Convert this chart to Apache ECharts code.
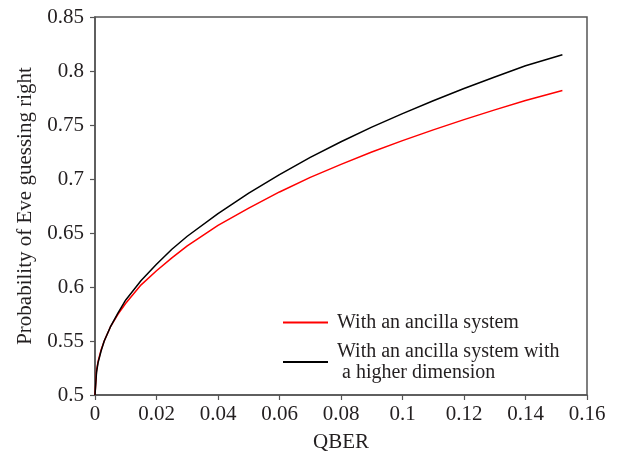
<!DOCTYPE html>
<html>
<head>
<meta charset="utf-8">
<script src="https://cdn.jsdelivr.net/npm/echarts@6/dist/echarts.min.js"></script>
<style>
html,body{margin:0;padding:0;background:#fff;}
#c{width:621px;height:458px;}
</style>
</head>
<body>
<div id="c"></div>
<script>
// QBER sample points
var qber = [0, 0.0005, 0.001, 0.002, 0.003, 0.005, 0.0075, 0.01, 0.015, 0.02, 0.025, 0.03, 0.04, 0.05, 0.06, 0.07, 0.08, 0.09, 0.1, 0.11, 0.12, 0.13, 0.14, 0.152];
// "With an ancilla system" (red)
var ancilla = [0.5, 0.523, 0.531, 0.542, 0.550, 0.563, 0.575, 0.585, 0.602, 0.615, 0.627, 0.638, 0.657, 0.673, 0.688, 0.7015, 0.7135, 0.725, 0.7355, 0.7455, 0.755, 0.764, 0.7727, 0.782];
// "With an ancilla system with a higher dimension" (black)
var ancillaHigh = [0.5, 0.521, 0.530, 0.541, 0.550, 0.563, 0.576, 0.588, 0.606, 0.621, 0.635, 0.647, 0.668, 0.687, 0.704, 0.720, 0.7345, 0.748, 0.7605, 0.7725, 0.7838, 0.7945, 0.8048, 0.815];
var seriesNames = ['With an ancilla system', 'With an ancilla system with\n a higher dimension'];
var xTicks = {min: 0, max: 0.16, interval: 0.02};
var yTicks = {min: 0.5, max: 0.85, interval: 0.05};

function pairs(xs, ys){ return xs.map(function(x,i){ return [x, ys[i]]; }); }

var font = '"Liberation Serif", "Times New Roman", serif';
var txt = '#231f20';
var chart = echarts.init(document.getElementById('c'));
chart.setOption({
  animation: false,
  backgroundColor: '#fff',
  grid: {left: 95, top: 17, right: 34, bottom: 61, show: true, borderColor: '#555', borderWidth: 1.5, backgroundColor: 'transparent'},
  legend: {
    orient: 'vertical', left: 283, top: 312, padding: 0, itemWidth: 45, itemHeight: 2, itemGap: 8,
    icon: 'rect',
    textStyle: {fontFamily: font, fontSize: 20, color: txt, lineHeight: 21, padding: [0,0,0,4]},
    data: seriesNames
  },
  xAxis: {
    type: 'value', min: xTicks.min, max: xTicks.max, interval: xTicks.interval,
    name: 'QBER', nameLocation: 'middle', nameGap: 37,
    nameTextStyle: {fontFamily: font, fontSize: 21, color: txt},
    axisLine: {show: true, onZero: false, lineStyle: {color: '#555', width: 1.5}},
    axisTick: {show: true, inside: false, length: 5, lineStyle: {color: '#555', width: 1.2}},
    axisLabel: {fontFamily: font, fontSize: 21, color: txt, margin: 9,
      formatter: function(v){ return String(+v.toFixed(2)); }},
    splitLine: {show: false}
  },
  yAxis: {
    type: 'value', min: yTicks.min, max: yTicks.max, interval: yTicks.interval,
    name: 'Probability of Eve guessing right', nameLocation: 'middle', nameGap: 56,
    nameTextStyle: {fontFamily: font, fontSize: 21, color: txt},
    axisLine: {show: true, lineStyle: {color: '#555', width: 1.5}},
    axisTick: {show: true, inside: false, length: 5, lineStyle: {color: '#555', width: 1.2}},
    axisLabel: {fontFamily: font, fontSize: 21, color: txt, margin: 11,
      formatter: function(v){ return String(+v.toFixed(2)); }},
    splitLine: {show: false}
  },
  series: [
    {name: seriesNames[0], type: 'line', data: pairs(qber, ancilla), smooth: false, showSymbol: false,
     lineStyle: {color: '#ff0000', width: 1.5}, itemStyle: {color: '#ff0000'}},
    {name: seriesNames[1], type: 'line', data: pairs(qber, ancillaHigh), smooth: false, showSymbol: false,
     lineStyle: {color: '#000000', width: 1.5}, itemStyle: {color: '#000000'}}
  ]
});
</script>
</body>
</html>
